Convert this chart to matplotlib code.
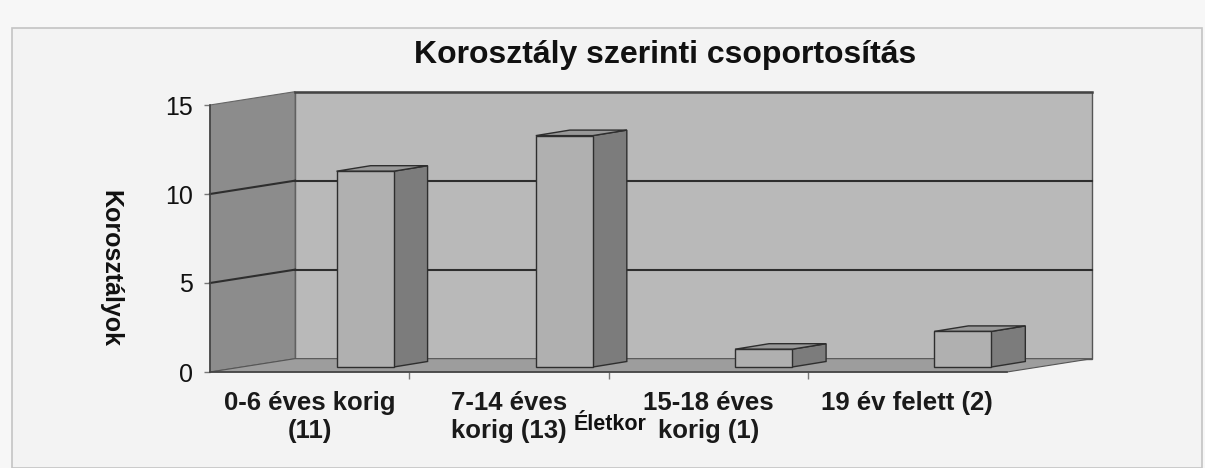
import matplotlib.pyplot as plt
from matplotlib.patches import Polygon, Rectangle

plt.rcParams['font.family'] = ['Liberation Sans', 'DejaVu Sans']

categories = ['0-6 éves korig\n(11)', '7-14 éves\nkorig (13)', '15-18 éves\nkorig (1)', '19 év felett (2)']
values = [11, 13, 1, 2]
y_ticks = [0, 5, 10, 15]
title = 'Korosztály szerinti csoportosítás'
x_label = 'Életkor'
y_label = 'Korosztályok'

# pseudo 3D geometry, in data units
back_dx, back_dy = 0.427, 0.75      # depth of the walls
bar_fx, bar_fy = 0.278, 0.28        # shift of the bar front face
bar_w = 0.286                       # bar width
bar_dx, bar_dy = 0.171, 0.31        # bar depth

c_back = '#b9b9b9'
c_left = '#8c8c8c'
c_floor = '#9d9d9d'
c_grid = '#2e2e2e'
c_front = '#b0b0b0'
c_side = '#7c7c7c'
c_top = '#989898'

fig = plt.figure(figsize=(12.05, 4.68), dpi=100, facecolor='#f7f7f7')
fig.patches.append(Rectangle((12 / 1205, 0), 1190 / 1205, 1 - 28 / 468,
                             transform=fig.transFigure, facecolor='#f3f3f3',
                             edgecolor='#c4c4c4', lw=1.2, zorder=-10))

ax = fig.add_axes([210 / 1205, 96 / 468, 797 / 1205, 267 / 468])
ax.set_facecolor('none')
n = len(categories)
x_lo, x_hi = -0.5, n - 0.5
y_top = max(y_ticks)
ax.set_xlim(x_lo, x_hi)
ax.set_ylim(0, y_top)


def poly(pts, fc, z, ec=c_grid, lw=1.0):
    ax.add_patch(Polygon(pts, closed=True, facecolor=fc, edgecolor=ec, lw=lw,
                         zorder=z, clip_on=False, joinstyle='miter'))


# walls and floor
poly([(x_lo + back_dx, back_dy), (x_hi + back_dx, back_dy),
      (x_hi + back_dx, y_top + back_dy), (x_lo + back_dx, y_top + back_dy)],
     c_back, 1, ec='#555555', lw=1.0)
poly([(x_lo, 0), (x_lo, y_top), (x_lo + back_dx, y_top + back_dy), (x_lo + back_dx, back_dy)],
     c_left, 1, ec='#666666', lw=0.8)
poly([(x_lo, 0), (x_hi, 0), (x_hi + back_dx, back_dy), (x_lo + back_dx, back_dy)],
     c_floor, 1, ec='#555555', lw=0.8)

for v in y_ticks[1:-1]:
    ax.plot([x_lo + back_dx, x_hi + back_dx], [v + back_dy, v + back_dy],
            color=c_grid, lw=1.5, zorder=2, clip_on=False)
    ax.plot([x_lo, x_lo + back_dx], [v, v + back_dy],
            color=c_grid, lw=1.5, zorder=2, clip_on=False)
ax.plot([x_lo + back_dx, x_hi + back_dx], [y_top + back_dy, y_top + back_dy],
        color='#444444', lw=1.8, zorder=2, clip_on=False)

# bars
for i, v in enumerate(values):
    x0 = i + bar_fx - bar_w / 2
    x1 = x0 + bar_w
    y0 = bar_fy
    y1 = bar_fy + v
    poly([(x1, y0), (x1 + bar_dx, y0 + bar_dy), (x1 + bar_dx, y1 + bar_dy), (x1, y1)], c_side, 3)
    poly([(x0, y1), (x1, y1), (x1 + bar_dx, y1 + bar_dy), (x0 + bar_dx, y1 + bar_dy)], c_top, 3)
    poly([(x0, y0), (x1, y0), (x1, y1), (x0, y1)], c_front, 4)

# axes styling
for s in ['top', 'right']:
    ax.spines[s].set_visible(False)
for s in ['left', 'bottom']:
    ax.spines[s].set_color('#444444')
    ax.spines[s].set_linewidth(1.2)
    ax.spines[s].set_zorder(5)

ax.set_yticks(y_ticks)
ax.set_yticklabels([str(t) for t in y_ticks], fontsize=18)
ax.tick_params(axis='y', length=4, width=1, color='#777777', pad=8, labelcolor='#111111')

ax.set_xticks(range(n))
ax.set_xticklabels(categories, fontsize=18.5, fontweight='bold', color='#1a1a1a')
ax.set_xticks([i + 0.5 for i in range(n - 1)], minor=True)
ax.tick_params(axis='x', which='major', length=0, pad=14)
ax.tick_params(axis='x', which='minor', length=5, width=1, color='#777777')

ax.set_xlabel(x_label, fontsize=15.5, fontweight='bold', color='#111111')
ax.xaxis.set_label_coords((610 - 210) / 797, -52 / 267)
ax.xaxis.label.set_va('center')

ax.set_ylabel(y_label, fontsize=18, fontweight='bold', rotation=270, color='#111111')
ax.yaxis.set_label_coords((110 - 210) / 797, (372 - 268) / 267)
ax.yaxis.label.set_va('center')

fig.text(665 / 1205, 1 - 55 / 468, title, fontsize=23, fontweight='bold',
         ha='center', va='center', color='#111111')

fig.savefig('out.png', dpi=100, facecolor=fig.get_facecolor())
